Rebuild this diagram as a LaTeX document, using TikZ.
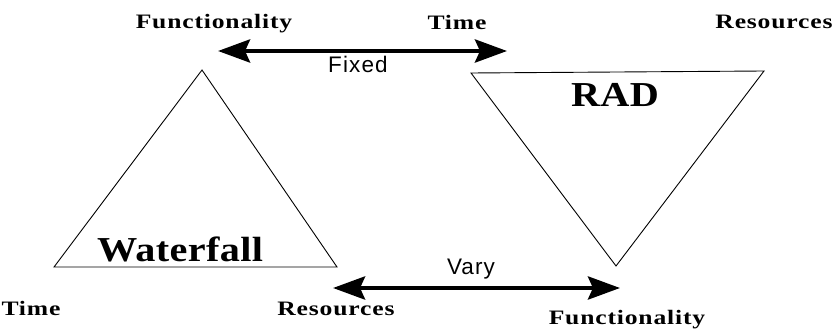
\documentclass[tikz,border=0pt]{standalone}
\usepackage{fontspec}
\setmainfont{Liberation Serif}
\newfontfamily\labfont[FakeStretch=1.25,LetterSpace=4]{Liberation Serif}
\newfontfamily\bigfont[FakeStretch=1.15,LetterSpace=1]{Liberation Serif}
\newfontfamily\sansfont[LetterSpace=5]{Liberation Sans}
\usetikzlibrary{arrows.meta}
\tikzset{
  corner/.style={anchor=base, inner sep=0pt, font=\labfont\bfseries\fontsize{20.5}{21}\selectfont},
  title/.style={anchor=base, inner sep=0pt, font=\bigfont\bfseries\fontsize{35}{35}\selectfont},
  arrlabel/.style={anchor=base, inner sep=0pt, font=\sansfont\fontsize{22.5}{23}\selectfont},
  tri/.style={draw=black, line width=0.9pt, line join=miter},
  bigarrow/.style={line width=4.5pt, {Stealth[length=32pt,width=23pt,inset=5pt]}-{Stealth[length=32pt,width=23pt,inset=5pt]}}
}
\begin{document}
\begin{tikzpicture}[x=1pt,y=-1pt]
\useasboundingbox (0,0) rectangle (834,331);
% Waterfall triangle
\coordinate (wa) at (202,70);
\coordinate (wl) at (54,267);
\coordinate (wr) at (337,267);
\draw[tri] (wa) -- (wl) -- (wr) -- cycle;
% RAD triangle
\coordinate (rl) at (471,73);
\coordinate (rr) at (764,71);
\coordinate (rb) at (616,266);
\draw[tri] (rl) -- (rr) -- (rb) -- cycle;
% labels
\node[corner] (ftop) at (214,28.5) {Functionality};
\node[corner] (ttop) at (457,30) {Time};
\node[corner] (rtop) at (774,29) {Resources};
\node[corner] (tbot) at (31,315) {Time};
\node[corner] (rbot) at (336,315) {Resources};
\node[corner] (fbot) at (627,324) {Functionality};
\node[title] (wf) at (180,261) {Waterfall};
\node[title] (rad) at (615,107) {RAD};
% arrows
\coordinate (fixL) at (218,51);
\coordinate (fixR) at (507,51);
\coordinate (varL) at (333,288);
\coordinate (varR) at (620,288);
\draw[bigarrow] (fixL) -- (fixR);
\draw[bigarrow] (varL) -- (varR);
\node[arrlabel] (fixed) at (358,73) {Fixed};
\node[arrlabel] (vary) at (471,274) {Vary};
\end{tikzpicture}
\end{document}
